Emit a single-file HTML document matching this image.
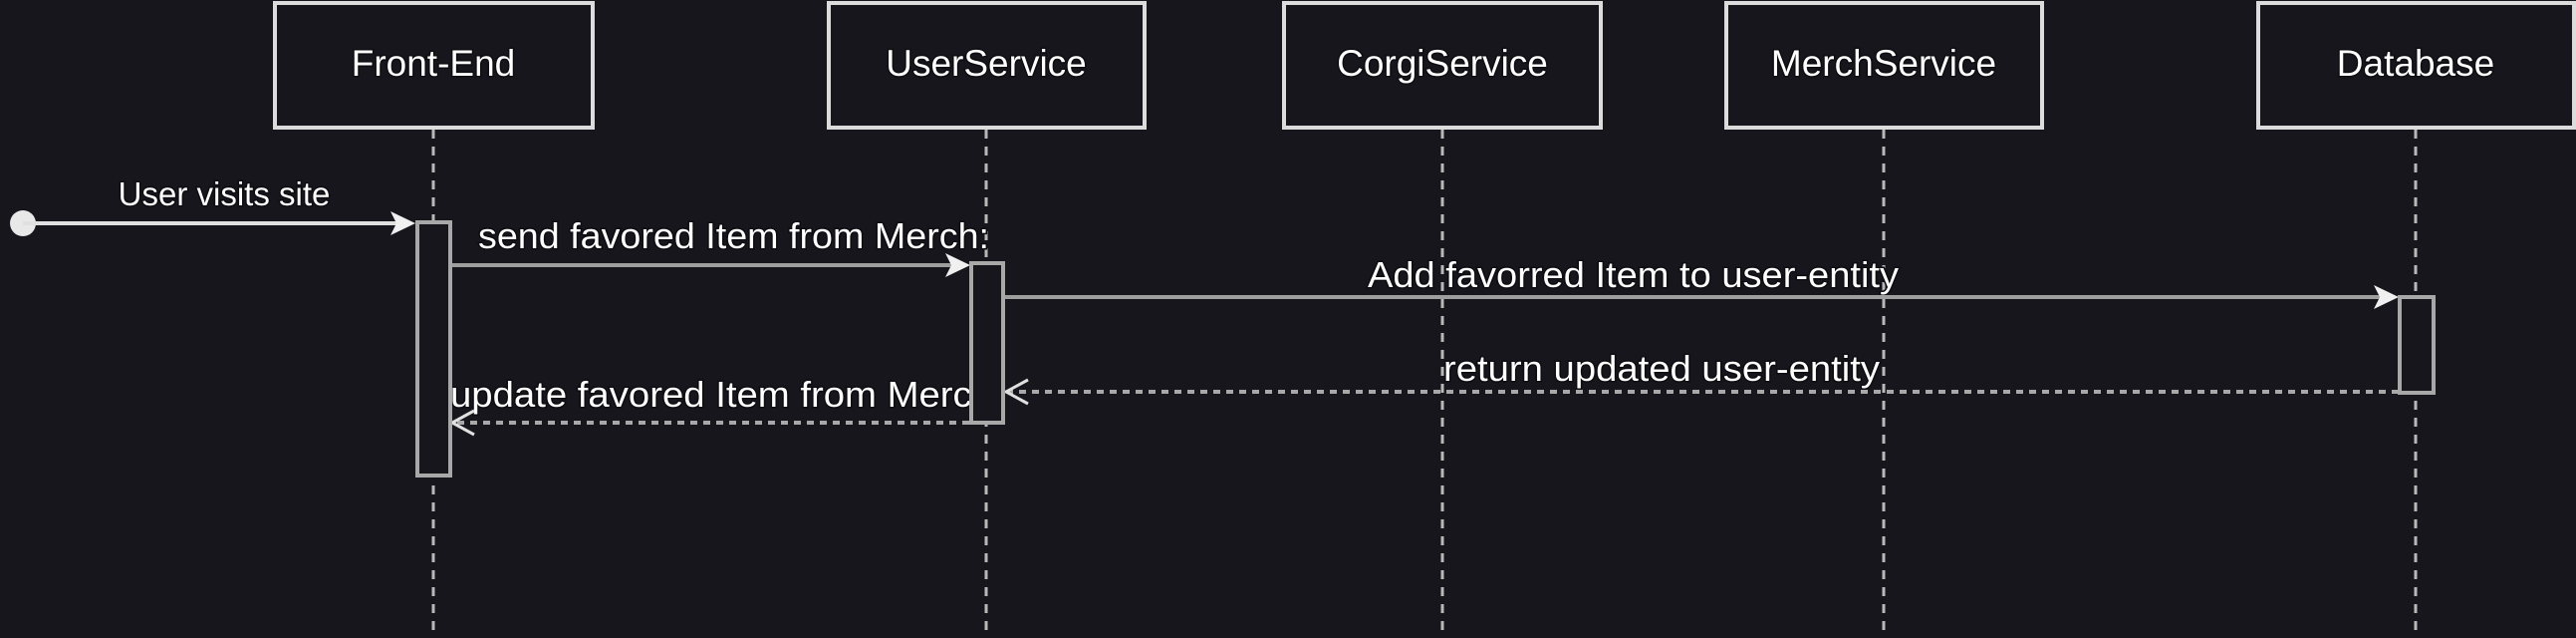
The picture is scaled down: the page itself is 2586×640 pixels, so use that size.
<!DOCTYPE html>
<html><head><meta charset="utf-8"><style>
html,body{margin:0;padding:0;background:#18161d;}
svg{display:block}
text{font-family:"Liberation Sans",Arial,sans-serif;fill:#fff;paint-order:stroke;stroke:#0e0d12;stroke-width:3px}
</style></head><body>
<svg width="2586" height="640" viewBox="0 0 2586 640" xmlns="http://www.w3.org/2000/svg">
<rect width="2586" height="640" fill="#18161d"/>
<!-- lifelines -->
<g stroke="#b8b8b8" stroke-width="3" stroke-dasharray="9 8">
<line x1="435" y1="130" x2="435" y2="640"/>
<line x1="990" y1="130" x2="990" y2="640"/>
<line x1="1448" y1="130" x2="1448" y2="640"/>
<line x1="1891" y1="130" x2="1891" y2="640"/>
<line x1="2425" y1="130" x2="2425" y2="640"/>
</g>
<!-- boxes -->
<g fill="#18161d" stroke="#dcdcdc" stroke-width="4">
<rect x="276" y="3" width="319" height="125"/>
<rect x="832" y="3" width="317" height="125"/>
<rect x="1289" y="3" width="318" height="125"/>
<rect x="1733" y="3" width="317" height="125"/>
<rect x="2267" y="3" width="317" height="125"/>
</g>
<g font-size="37" text-anchor="middle">
<text x="435" y="76">Front-End</text>
<text x="990" y="76">UserService</text>
<text x="1448" y="76">CorgiService</text>
<text x="1891" y="76">MerchService</text>
<text x="2425" y="76">Database</text>
</g>
<!-- message 1 -->
<circle cx="23" cy="224" r="13" fill="#e8e8e8"/>
<line x1="23" y1="224" x2="400" y2="224" stroke="#e0e0e0" stroke-width="4"/>
<polygon points="417,224 392,212 398,224 392,236" fill="#f0f0f0"/>
<text x="225" y="206" font-size="33" text-anchor="middle">User visits site</text>
<!-- labels -->
<text x="480" y="249" font-size="36" textLength="513" lengthAdjust="spacingAndGlyphs">send favored Item from Merch:</text>
<text x="1373" y="288" font-size="36" textLength="533" lengthAdjust="spacingAndGlyphs">Add favorred Item to user-entity</text>
<text x="1449" y="382" font-size="36" textLength="438" lengthAdjust="spacingAndGlyphs">return updated user-entity</text>
<text x="452" y="408" font-size="36" textLength="545" lengthAdjust="spacingAndGlyphs">update favored Item from Merch</text>
<!-- arrows -->
<line x1="453" y1="266" x2="958" y2="266" stroke="#9e9e9e" stroke-width="4"/>
<polygon points="974,266 949,254 955,266 949,278" fill="#f0f0f0"/>
<line x1="1008" y1="298" x2="2392" y2="298" stroke="#9e9e9e" stroke-width="4"/>
<polygon points="2408,298 2383,286 2389,298 2383,310" fill="#f0f0f0"/>
<line x1="2408" y1="393" x2="1012" y2="393" stroke="#a8a8a8" stroke-width="4" stroke-dasharray="7 6"/>
<polyline points="1032,381 1010,393 1032,405" fill="none" stroke="#e0e0e0" stroke-width="3"/>
<line x1="973" y1="424" x2="456" y2="424" stroke="#a8a8a8" stroke-width="4" stroke-dasharray="7 6"/>
<polyline points="476,412 454,424 476,436" fill="none" stroke="#e0e0e0" stroke-width="3"/>
<!-- activations -->
<g fill="#18161d" stroke="#a8a8a8" stroke-width="4">
<rect x="419" y="223" width="33" height="254"/>
<rect x="975" y="264" width="32" height="160"/>
<rect x="2409" y="298" width="34" height="96"/>
</g>
</svg>
</body></html>
